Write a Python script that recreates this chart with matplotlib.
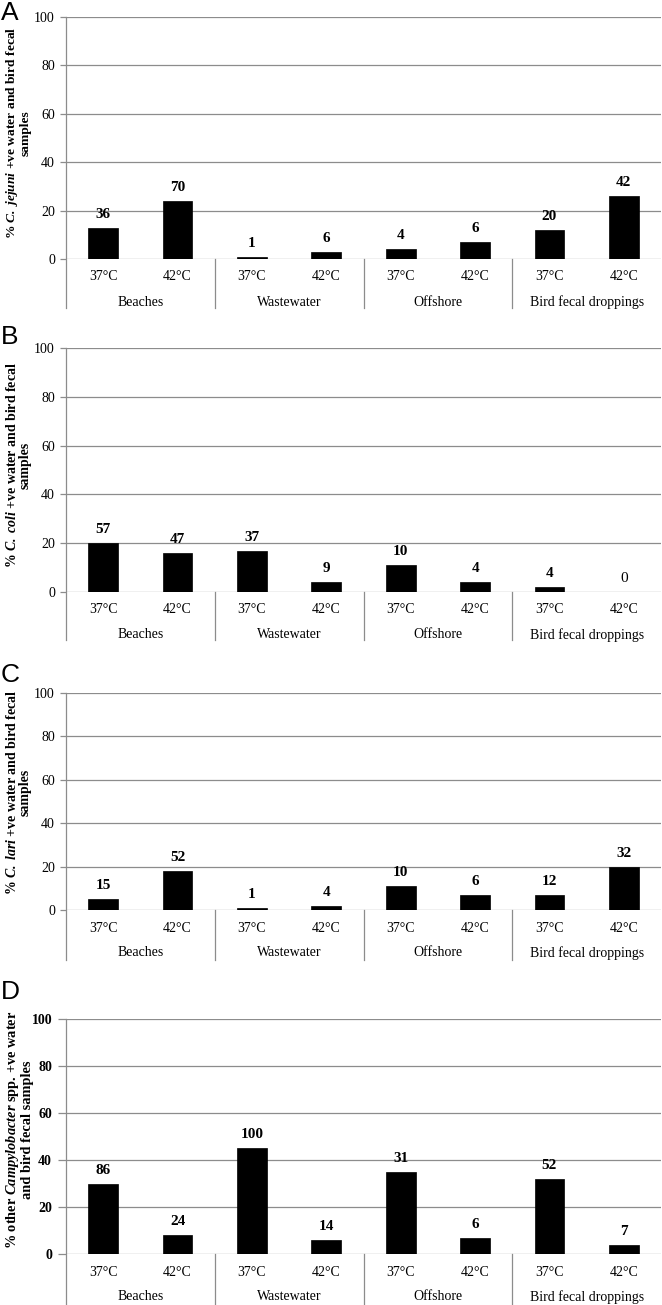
import numpy as np
import matplotlib
matplotlib.use("Agg")
import matplotlib.pyplot as plt
from matplotlib.transforms import offset_copy

plt.rcParams["font.family"] = "Liberation Serif"
plt.rcParams["mathtext.fontset"] = "custom"
plt.rcParams["mathtext.rm"] = "Liberation Serif"
plt.rcParams["mathtext.it"] = "Liberation Serif:italic"
plt.rcParams["mathtext.bf"] = "Liberation Serif:bold"
plt.rcParams["mathtext.bfit"] = "Liberation Serif:italic:bold"

GROUPS = ["Beaches", "Wastewater", "Offshore", "Bird fecal droppings"]
TEMPS  = ["37°C", "42°C"]

# percent positive (bar height) and sample counts (bar label), 37/42 per group
pct_jejuni = [13, 24, 1, 3, 4, 7, 12, 26]
n_jejuni   = [36, 70, 1, 6, 4, 6, 20, 42]

pct_coli = [20, 16, 17, 4, 11, 4, 2, 0]
n_coli   = [57, 47, 37, 9, 10, 4, 4, 0]

pct_lari = [5, 18, 1, 2, 11, 7, 7, 20]
n_lari   = [15, 52, 1, 4, 10, 6, 12, 32]

pct_other = [30, 8, 45, 6, 35, 7, 32, 4]
n_other   = [86, 24, 100, 14, 31, 6, 52, 7]

LABELS = [
    "% $\\mathbfit{C.\\ jejuni}$ +ve water and bird fecal\nsamples",
    "% $\\mathbfit{C.\\ coli}$ +ve water and bird fecal\nsamples",
    "% $\\mathbfit{C.\\ lari}$ +ve water and bird fecal\nsamples",
    "% other $\\mathbfit{Campylobacter}$ spp. +ve water\nand bird fecal samples",
]
LETTERS = ["A", "B", "C", "D"]

# panel frames in pixels: (100 gridline, zero line, letter top, separator drop,
# ylabel size, ylabel centre)
FRAMES = [
    (17, 259, 1, 49, 9.7, 0.52),
    (348, 592, 325, 48, 10, 0.52),
    (693, 910, 663, 50, 10, 0.54),
    (1019, 1254, 980, 52, 10.4, 0.53),
]

W, H = 662, 1305
GRID = "#8c8c8c"

fig = plt.figure(figsize=(W / 100, H / 100), dpi=100)

panels = [(pct_jejuni, n_jejuni), (pct_coli, n_coli),
          (pct_lari, n_lari), (pct_other, n_other)]

for i, ((pct, counts), (top, zero, ltop, drop, lsize, lpos)) in enumerate(zip(panels, FRAMES)):
    hpx = zero - top
    ax = fig.add_axes([66 / W, 1 - zero / H, 595 / W, hpx / H])
    x = np.arange(len(pct))
    ax.bar(x, pct, width=0.4, color="black", edgecolor="black", linewidth=0.5, zorder=3)
    ax.set_xlim(-0.5, 7.5)
    ax.set_ylim(0, 100)
    ax.set_yticks(range(0, 101, 20))
    ax.yaxis.grid(True, color=GRID, linewidth=0.9)
    ax.set_axisbelow(True)
    for s in ax.spines.values():
        s.set_visible(False)
    ax.set_xticks([])
    last = i == 3
    ax.tick_params(axis="y", length=6 if last else 4, color=GRID, width=0.9,
                   pad=4, labelsize=10)
    if last:
        for t in ax.get_yticklabels():
            t.set_fontweight("bold")

    for xi, (p, n) in enumerate(zip(pct, counts)):
        ax.annotate(str(n), (xi, p), xytext=(0, 5), textcoords="offset points",
                    ha="center", va="bottom", fontsize=11,
                    fontweight="bold" if n > 0 else "normal")

    xt = ax.get_xaxis_transform()
    # left axis line and group separators running below the zero line
    for sx in [-0.5, 1.5, 3.5, 5.5]:
        y_top = 1 if sx == -0.5 else 0
        ax.plot([sx, sx], [-drop / hpx, y_top], transform=xt,
                color=GRID, linewidth=0.9, clip_on=False)
    t_temp = offset_copy(xt, fig=fig, y=-18, units="dots")
    t_grp = offset_copy(xt, fig=fig, y=-43, units="dots")
    for xi in x:
        ax.text(xi, 0, TEMPS[xi % 2], transform=t_temp, ha="center", va="center", fontsize=10)
    for gi, g in enumerate(GROUPS):
        ax.text(2 * gi + 0.5, 0, g, transform=t_grp, ha="center", va="center", fontsize=10)

    ax.set_ylabel(LABELS[i], fontweight="bold", fontsize=lsize, linespacing=1.0)
    ax.yaxis.set_label_coords(((34 if last else 32) - 66) / 595, lpos)
    fig.text(1 / W, 1 - ltop / H, LETTERS[i], family="Liberation Sans",
             fontsize=19, va="top", ha="left")

fig.savefig("out.png", dpi=100)
